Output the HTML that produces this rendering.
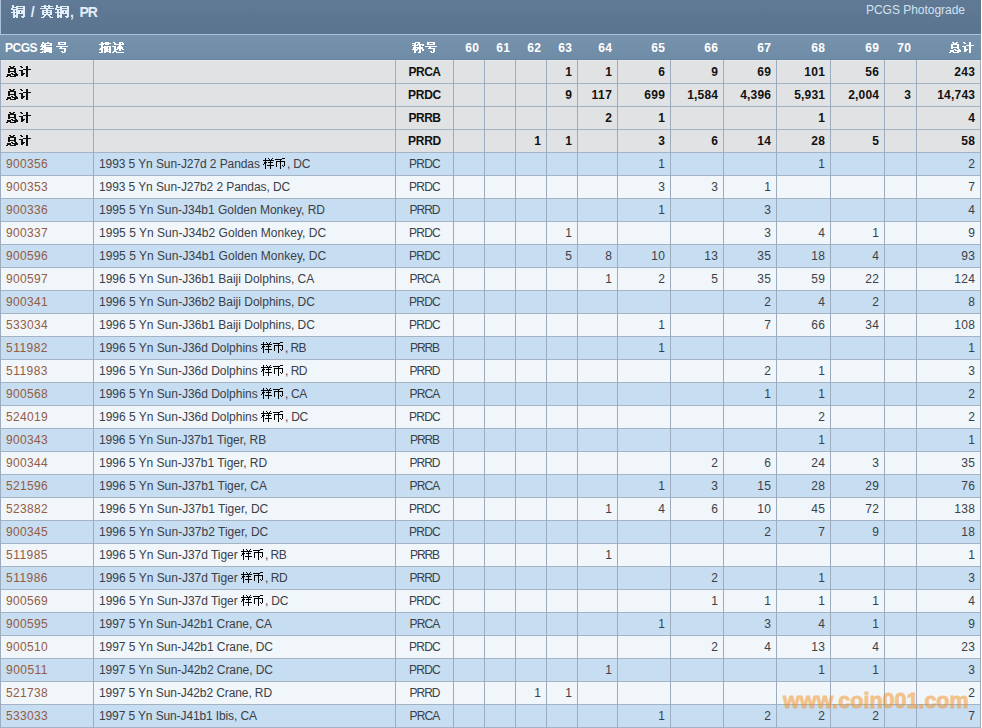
<!DOCTYPE html>
<html><head><meta charset="utf-8"><title>PCGS Population - Copper / Brass, PR</title>
<style>
*{margin:0;padding:0;box-sizing:border-box}
html,body{width:982px;height:728px;overflow:hidden;background:#fff}
body{position:relative;font-family:"Liberation Sans",sans-serif;font-size:12px;color:#3b4047}
.a{position:absolute}
.t{position:absolute;white-space:nowrap;line-height:22px;height:22px}
.r{text-align:right}
.c{text-align:center}
.b{font-weight:bold;color:#111}
.h{font-weight:bold;color:#fff;line-height:25px;height:25px}
.lk{color:#945c42}
.hl{position:absolute;left:0;width:981px;height:1px;background:#a3b3c3}
.vl{position:absolute;width:1px;background:#9cacbe}
.tx{position:absolute;color:transparent;pointer-events:none;letter-spacing:0}
svg{display:inline}
</style></head><body>

<div class="a" style="left:0;top:0;width:981px;height:34px;background:linear-gradient(#607a95,#5a748f)"></div>
<div class="a" style="left:0;top:0;width:1px;height:34px;background:#a9c2d9"></div>
<div class="a" style="left:0;top:34px;width:981px;height:1px;background:#a9c2d9"></div>
<div class="t" style="left:11px;top:0px;line-height:24px;font-size:14px;font-weight:bold;color:#e3eef9"><svg width="15" height="13" viewBox="0 0 15 13" shape-rendering="crispEdges" style="vertical-align:-1px"><path fill="#e3eef9" d="M1 0h2v1h-2zM1 1h2v1h-2zM5 1h9v1h-9zM1 2h6v1h-6zM12 2h2v1h-2zM0 3h2v1h-2zM5 3h9v1h-9zM0 4h7v1h-7zM12 4h2v1h-2zM2 5h2v1h-2zM5 5h9v1h-9zM2 6h2v1h-2zM5 6h4v1h-4zM10 6h4v1h-4zM0 7h9v1h-9zM10 7h4v1h-4zM2 8h2v1h-2zM5 8h9v1h-9zM2 9h2v1h-2zM5 9h2v1h-2zM12 9h2v1h-2zM2 10h5v1h-5zM12 10h2v1h-2zM2 11h5v1h-5zM10 11h4v1h-4zM2 12h2v1h-2zM5 12h2v1h-2zM11 12h2v1h-2z"/></svg><span class="tx">铜</span><span style="letter-spacing:0.78px"> / </span><svg width="30" height="13" viewBox="0 0 30 13" shape-rendering="crispEdges" style="vertical-align:-1px"><path fill="#e3eef9" d="M4 0h2v1h-2zM8 0h2v1h-2zM1 1h12v1h-12zM4 2h2v1h-2zM8 2h2v1h-2zM0 3h14v1h-14zM6 4h2v1h-2zM2 5h10v1h-10zM2 6h2v1h-2zM6 6h2v1h-2zM10 6h2v1h-2zM2 7h10v1h-10zM2 8h2v1h-2zM6 8h2v1h-2zM10 8h2v1h-2zM2 9h10v1h-10zM4 10h2v1h-2zM8 10h2v1h-2zM3 11h2v1h-2zM9 11h2v1h-2zM1 12h3v1h-3zM10 12h3v1h-3zM16 0h2v1h-2zM16 1h2v1h-2zM20 1h9v1h-9zM16 2h6v1h-6zM27 2h2v1h-2zM15 3h2v1h-2zM20 3h9v1h-9zM15 4h7v1h-7zM27 4h2v1h-2zM17 5h2v1h-2zM20 5h9v1h-9zM17 6h2v1h-2zM20 6h4v1h-4zM25 6h4v1h-4zM15 7h9v1h-9zM25 7h4v1h-4zM17 8h2v1h-2zM20 8h9v1h-9zM17 9h2v1h-2zM20 9h2v1h-2zM27 9h2v1h-2zM17 10h5v1h-5zM27 10h2v1h-2zM17 11h5v1h-5zM25 11h4v1h-4zM17 12h2v1h-2zM20 12h2v1h-2zM26 12h2v1h-2z"/></svg><span class="tx">黄铜</span><span style="letter-spacing:0.11px">,</span><span style="margin-left:5.5px;letter-spacing:-1.1px">PR</span></div>
<div class="t" style="left:866px;top:1px;line-height:19px;font-size:12px;color:#d3e2f1;letter-spacing:-0.05px"><span style="letter-spacing:-0.03px">PCGS Photograde</span></div>
<div class="a" style="left:0;top:35px;width:981px;height:25px;background:linear-gradient(#7692ad,#6f8ca6)"></div>
<div class="t h" style="left:5px;top:36px"><span style="letter-spacing:-0.47px">PCGS </span><svg width="13" height="11" viewBox="0 0 13 11" shape-rendering="crispEdges" style="vertical-align:-1px"><path fill="#fff" d="M2 0h2v1h-2zM7 0h2v1h-2zM2 1h10v1h-10zM1 2h2v1h-2zM4 2h2v1h-2zM10 2h2v1h-2zM1 3h11v1h-11zM0 4h6v1h-6zM2 5h10v1h-10zM1 6h2v1h-2zM4 6h8v1h-8zM0 7h12v1h-12zM4 8h8v1h-8zM2 9h10v1h-10zM0 10h3v1h-3zM4 10h2v1h-2zM9 10h3v1h-3z"/></svg><span class="tx">编</span><span style="letter-spacing:-0.34px"> </span><svg width="13" height="11" viewBox="0 0 13 11" shape-rendering="crispEdges" style="vertical-align:-1px"><path fill="#fff" d="M2 0h8v1h-8zM2 1h2v1h-2zM8 1h2v1h-2zM2 2h8v1h-8zM0 4h12v1h-12zM4 5h2v1h-2zM3 6h7v1h-7zM8 7h2v1h-2zM8 8h2v1h-2zM5 9h2v1h-2zM8 9h2v1h-2zM6 10h3v1h-3z"/></svg><span class="tx">号</span></div>
<div class="t h" style="left:99px;top:36px"><svg width="26" height="11" viewBox="0 0 26 11" shape-rendering="crispEdges" style="vertical-align:-1px"><path fill="#fff" d="M2 0h2v1h-2zM6 0h4v1h-4zM2 1h10v1h-10zM0 2h5v1h-5zM6 2h4v1h-4zM2 3h2v1h-2zM2 4h2v1h-2zM5 4h7v1h-7zM2 5h7v1h-7zM10 5h2v1h-2zM1 6h3v1h-3zM5 6h4v1h-4zM10 6h2v1h-2zM0 7h4v1h-4zM5 7h7v1h-7zM2 8h2v1h-2zM5 8h4v1h-4zM10 8h2v1h-2zM2 9h2v1h-2zM5 9h7v1h-7zM0 10h4v1h-4zM5 10h2v1h-2zM10 10h2v1h-2zM14 0h2v1h-2zM20 0h4v1h-4zM15 1h2v1h-2zM20 1h2v1h-2zM23 1h2v1h-2zM15 2h10v1h-10zM20 3h2v1h-2zM13 4h4v1h-4zM19 4h4v1h-4zM15 5h2v1h-2zM18 5h6v1h-6zM15 6h2v1h-2zM18 6h6v1h-6zM15 7h4v1h-4zM20 7h2v1h-2zM23 7h2v1h-2zM15 8h2v1h-2zM20 8h2v1h-2zM14 9h4v1h-4zM13 10h2v1h-2zM17 10h8v1h-8z"/></svg><span class="tx">描述</span></div>
<div class="t h c" style="left:396px;width:57px;top:36px"><svg width="26" height="11" viewBox="0 0 26 11" shape-rendering="crispEdges" style="vertical-align:-1px"><path fill="#fff" d="M3 0h5v1h-5zM0 1h4v1h-4zM6 1h2v1h-2zM2 2h2v1h-2zM5 2h7v1h-7zM0 3h6v1h-6zM7 3h2v1h-2zM10 3h2v1h-2zM2 4h2v1h-2zM7 4h2v1h-2zM1 5h10v1h-10zM1 6h3v1h-3zM5 6h6v1h-6zM0 7h6v1h-6zM7 7h2v1h-2zM10 7h2v1h-2zM2 8h3v1h-3zM7 8h2v1h-2zM10 8h2v1h-2zM2 9h2v1h-2zM7 9h2v1h-2zM2 10h2v1h-2zM6 10h3v1h-3zM15 0h8v1h-8zM15 1h2v1h-2zM21 1h2v1h-2zM15 2h8v1h-8zM13 4h12v1h-12zM17 5h2v1h-2zM16 6h7v1h-7zM21 7h2v1h-2zM21 8h2v1h-2zM18 9h2v1h-2zM21 9h2v1h-2zM19 10h3v1h-3z"/></svg><span class="tx">称号</span></div>
<div class="t h r" style="left:454px;width:25.32px;top:36px"><span style="letter-spacing:0.32px">60</span></div>
<div class="t h r" style="left:485px;width:25.32px;top:36px"><span style="letter-spacing:0.32px">61</span></div>
<div class="t h r" style="left:516px;width:25.32px;top:36px"><span style="letter-spacing:0.32px">62</span></div>
<div class="t h r" style="left:547px;width:25.32px;top:36px"><span style="letter-spacing:0.32px">63</span></div>
<div class="t h r" style="left:578px;width:34.32px;top:36px"><span style="letter-spacing:0.32px">64</span></div>
<div class="t h r" style="left:618px;width:47.32px;top:36px"><span style="letter-spacing:0.32px">65</span></div>
<div class="t h r" style="left:671px;width:47.32px;top:36px"><span style="letter-spacing:0.32px">66</span></div>
<div class="t h r" style="left:724px;width:47.32px;top:36px"><span style="letter-spacing:0.32px">67</span></div>
<div class="t h r" style="left:777px;width:48.32px;top:36px"><span style="letter-spacing:0.32px">68</span></div>
<div class="t h r" style="left:831px;width:48.32px;top:36px"><span style="letter-spacing:0.32px">69</span></div>
<div class="t h r" style="left:885px;width:26.32px;top:36px"><span style="letter-spacing:0.32px">70</span></div>
<div class="t h r" style="left:917px;width:58.00px;top:36px"><svg width="26" height="11" viewBox="0 0 26 11" shape-rendering="crispEdges" style="vertical-align:-1px"><path fill="#fff" d="M3 0h2v1h-2zM7 0h2v1h-2zM4 1h4v1h-4zM2 2h8v1h-8zM2 3h2v1h-2zM8 3h2v1h-2zM2 4h2v1h-2zM8 4h2v1h-2zM2 5h8v1h-8zM2 6h2v1h-2zM8 6h2v1h-2zM5 7h2v1h-2zM9 7h2v1h-2zM1 8h4v1h-4zM6 8h6v1h-6zM1 9h4v1h-4zM8 9h4v1h-4zM0 10h2v1h-2zM4 10h6v1h-6zM14 0h2v1h-2zM20 0h2v1h-2zM15 1h2v1h-2zM20 1h2v1h-2zM20 2h2v1h-2zM17 3h8v1h-8zM13 4h4v1h-4zM20 4h2v1h-2zM15 5h2v1h-2zM20 5h2v1h-2zM15 6h2v1h-2zM20 6h2v1h-2zM15 7h4v1h-4zM20 7h2v1h-2zM15 8h3v1h-3zM20 8h2v1h-2zM15 9h2v1h-2zM20 9h2v1h-2zM20 10h2v1h-2z"/></svg><span class="tx">总计</span></div>
<div class="a" style="left:0;top:60px;width:981px;height:23px;background:#e1e2e4"></div>
<div class="t b" style="left:6px;top:61px"><svg width="26" height="11" viewBox="0 0 26 11" shape-rendering="crispEdges" style="vertical-align:-1px"><path fill="#111" d="M3 0h2v1h-2zM7 0h2v1h-2zM4 1h4v1h-4zM2 2h8v1h-8zM2 3h2v1h-2zM8 3h2v1h-2zM2 4h2v1h-2zM8 4h2v1h-2zM2 5h8v1h-8zM2 6h2v1h-2zM8 6h2v1h-2zM5 7h2v1h-2zM9 7h2v1h-2zM1 8h4v1h-4zM6 8h6v1h-6zM1 9h4v1h-4zM8 9h4v1h-4zM0 10h2v1h-2zM4 10h6v1h-6zM14 0h2v1h-2zM20 0h2v1h-2zM15 1h2v1h-2zM20 1h2v1h-2zM20 2h2v1h-2zM17 3h8v1h-8zM13 4h4v1h-4zM20 4h2v1h-2zM15 5h2v1h-2zM20 5h2v1h-2zM15 6h2v1h-2zM20 6h2v1h-2zM15 7h4v1h-4zM20 7h2v1h-2zM15 8h3v1h-3zM20 8h2v1h-2zM15 9h2v1h-2zM20 9h2v1h-2zM20 10h2v1h-2z"/></svg><span class="tx">总计</span></div>
<div class="t b c" style="left:396px;width:57px;top:61px"><span style="letter-spacing:-0.50px">PRCA</span></div>
<div class="t b r" style="left:547px;width:25.31px;top:61px"><span style="letter-spacing:0.31px">1</span></div>
<div class="t b r" style="left:578px;width:34.31px;top:61px"><span style="letter-spacing:0.31px">1</span></div>
<div class="t b r" style="left:618px;width:47.31px;top:61px"><span style="letter-spacing:0.31px">6</span></div>
<div class="t b r" style="left:671px;width:47.31px;top:61px"><span style="letter-spacing:0.31px">9</span></div>
<div class="t b r" style="left:724px;width:47.32px;top:61px"><span style="letter-spacing:0.32px">69</span></div>
<div class="t b r" style="left:777px;width:48.32px;top:61px"><span style="letter-spacing:0.32px">101</span></div>
<div class="t b r" style="left:831px;width:48.32px;top:61px"><span style="letter-spacing:0.32px">56</span></div>
<div class="t b r" style="left:917px;width:58.32px;top:61px"><span style="letter-spacing:0.32px">243</span></div>
<div class="a" style="left:0;top:83px;width:981px;height:23px;background:#e1e2e4"></div>
<div class="t b" style="left:6px;top:84px"><svg width="26" height="11" viewBox="0 0 26 11" shape-rendering="crispEdges" style="vertical-align:-1px"><path fill="#111" d="M3 0h2v1h-2zM7 0h2v1h-2zM4 1h4v1h-4zM2 2h8v1h-8zM2 3h2v1h-2zM8 3h2v1h-2zM2 4h2v1h-2zM8 4h2v1h-2zM2 5h8v1h-8zM2 6h2v1h-2zM8 6h2v1h-2zM5 7h2v1h-2zM9 7h2v1h-2zM1 8h4v1h-4zM6 8h6v1h-6zM1 9h4v1h-4zM8 9h4v1h-4zM0 10h2v1h-2zM4 10h6v1h-6zM14 0h2v1h-2zM20 0h2v1h-2zM15 1h2v1h-2zM20 1h2v1h-2zM20 2h2v1h-2zM17 3h8v1h-8zM13 4h4v1h-4zM20 4h2v1h-2zM15 5h2v1h-2zM20 5h2v1h-2zM15 6h2v1h-2zM20 6h2v1h-2zM15 7h4v1h-4zM20 7h2v1h-2zM15 8h3v1h-3zM20 8h2v1h-2zM15 9h2v1h-2zM20 9h2v1h-2zM20 10h2v1h-2z"/></svg><span class="tx">总计</span></div>
<div class="t b c" style="left:396px;width:57px;top:84px"><span style="letter-spacing:-0.25px">PRDC</span></div>
<div class="t b r" style="left:547px;width:25.31px;top:84px"><span style="letter-spacing:0.31px">9</span></div>
<div class="t b r" style="left:578px;width:34.55px;top:84px"><span style="letter-spacing:0.55px">117</span></div>
<div class="t b r" style="left:618px;width:47.32px;top:84px"><span style="letter-spacing:0.32px">699</span></div>
<div class="t b r" style="left:671px;width:47.19px;top:84px"><span style="letter-spacing:0.19px">1,584</span></div>
<div class="t b r" style="left:724px;width:47.19px;top:84px"><span style="letter-spacing:0.19px">4,396</span></div>
<div class="t b r" style="left:777px;width:48.19px;top:84px"><span style="letter-spacing:0.19px">5,931</span></div>
<div class="t b r" style="left:831px;width:48.19px;top:84px"><span style="letter-spacing:0.19px">2,004</span></div>
<div class="t b r" style="left:885px;width:26.31px;top:84px"><span style="letter-spacing:0.31px">3</span></div>
<div class="t b r" style="left:917px;width:58.22px;top:84px"><span style="letter-spacing:0.22px">14,743</span></div>
<div class="a" style="left:0;top:106px;width:981px;height:23px;background:#e1e2e4"></div>
<div class="t b" style="left:6px;top:107px"><svg width="26" height="11" viewBox="0 0 26 11" shape-rendering="crispEdges" style="vertical-align:-1px"><path fill="#111" d="M3 0h2v1h-2zM7 0h2v1h-2zM4 1h4v1h-4zM2 2h8v1h-8zM2 3h2v1h-2zM8 3h2v1h-2zM2 4h2v1h-2zM8 4h2v1h-2zM2 5h8v1h-8zM2 6h2v1h-2zM8 6h2v1h-2zM5 7h2v1h-2zM9 7h2v1h-2zM1 8h4v1h-4zM6 8h6v1h-6zM1 9h4v1h-4zM8 9h4v1h-4zM0 10h2v1h-2zM4 10h6v1h-6zM14 0h2v1h-2zM20 0h2v1h-2zM15 1h2v1h-2zM20 1h2v1h-2zM20 2h2v1h-2zM17 3h8v1h-8zM13 4h4v1h-4zM20 4h2v1h-2zM15 5h2v1h-2zM20 5h2v1h-2zM15 6h2v1h-2zM20 6h2v1h-2zM15 7h4v1h-4zM20 7h2v1h-2zM15 8h3v1h-3zM20 8h2v1h-2zM15 9h2v1h-2zM20 9h2v1h-2zM20 10h2v1h-2z"/></svg><span class="tx">总计</span></div>
<div class="t b c" style="left:396px;width:57px;top:107px"><span style="letter-spacing:-0.50px">PRRB</span></div>
<div class="t b r" style="left:578px;width:34.31px;top:107px"><span style="letter-spacing:0.31px">2</span></div>
<div class="t b r" style="left:618px;width:47.31px;top:107px"><span style="letter-spacing:0.31px">1</span></div>
<div class="t b r" style="left:777px;width:48.31px;top:107px"><span style="letter-spacing:0.31px">1</span></div>
<div class="t b r" style="left:917px;width:58.31px;top:107px"><span style="letter-spacing:0.31px">4</span></div>
<div class="a" style="left:0;top:129px;width:981px;height:23px;background:#e1e2e4"></div>
<div class="t b" style="left:6px;top:130px"><svg width="26" height="11" viewBox="0 0 26 11" shape-rendering="crispEdges" style="vertical-align:-1px"><path fill="#111" d="M3 0h2v1h-2zM7 0h2v1h-2zM4 1h4v1h-4zM2 2h8v1h-8zM2 3h2v1h-2zM8 3h2v1h-2zM2 4h2v1h-2zM8 4h2v1h-2zM2 5h8v1h-8zM2 6h2v1h-2zM8 6h2v1h-2zM5 7h2v1h-2zM9 7h2v1h-2zM1 8h4v1h-4zM6 8h6v1h-6zM1 9h4v1h-4zM8 9h4v1h-4zM0 10h2v1h-2zM4 10h6v1h-6zM14 0h2v1h-2zM20 0h2v1h-2zM15 1h2v1h-2zM20 1h2v1h-2zM20 2h2v1h-2zM17 3h8v1h-8zM13 4h4v1h-4zM20 4h2v1h-2zM15 5h2v1h-2zM20 5h2v1h-2zM15 6h2v1h-2zM20 6h2v1h-2zM15 7h4v1h-4zM20 7h2v1h-2zM15 8h3v1h-3zM20 8h2v1h-2zM15 9h2v1h-2zM20 9h2v1h-2zM20 10h2v1h-2z"/></svg><span class="tx">总计</span></div>
<div class="t b c" style="left:396px;width:57px;top:130px"><span style="letter-spacing:-0.25px">PRRD</span></div>
<div class="t b r" style="left:516px;width:25.31px;top:130px"><span style="letter-spacing:0.31px">1</span></div>
<div class="t b r" style="left:547px;width:25.31px;top:130px"><span style="letter-spacing:0.31px">1</span></div>
<div class="t b r" style="left:618px;width:47.31px;top:130px"><span style="letter-spacing:0.31px">3</span></div>
<div class="t b r" style="left:671px;width:47.31px;top:130px"><span style="letter-spacing:0.31px">6</span></div>
<div class="t b r" style="left:724px;width:47.32px;top:130px"><span style="letter-spacing:0.32px">14</span></div>
<div class="t b r" style="left:777px;width:48.32px;top:130px"><span style="letter-spacing:0.32px">28</span></div>
<div class="t b r" style="left:831px;width:48.31px;top:130px"><span style="letter-spacing:0.31px">5</span></div>
<div class="t b r" style="left:917px;width:58.32px;top:130px"><span style="letter-spacing:0.32px">58</span></div>
<div class="a" style="left:0;top:152px;width:981px;height:23px;background:#c7ddf1"></div>
<div class="t lk" style="left:6px;top:153px"><span style="letter-spacing:0.33px">900356</span></div>
<div class="t" style="left:99px;top:153px"><span style="letter-spacing:-0.09px">1993 5 Yn Sun-J27d 2 Pandas </span><svg width="24" height="11" viewBox="0 0 24 11" shape-rendering="crispEdges" style="vertical-align:-1px"><path fill="#000" d="M2 0h1v1h-1zM5 0h1v1h-1zM9 0h1v1h-1zM2 1h1v1h-1zM6 1h1v1h-1zM8 1h1v1h-1zM0 2h11v1h-11zM2 3h1v1h-1zM7 3h1v1h-1zM1 4h3v1h-3zM5 4h5v1h-5zM1 5h2v1h-2zM7 5h1v1h-1zM0 6h1v1h-1zM2 6h1v1h-1zM7 6h1v1h-1zM2 7h1v1h-1zM4 7h7v1h-7zM2 8h1v1h-1zM7 8h1v1h-1zM2 9h1v1h-1zM7 9h1v1h-1zM2 10h1v1h-1zM7 10h1v1h-1zM19 0h3v1h-3zM12 1h7v1h-7zM17 2h1v1h-1zM13 3h9v1h-9zM13 4h1v1h-1zM17 4h1v1h-1zM21 4h1v1h-1zM13 5h1v1h-1zM17 5h1v1h-1zM21 5h1v1h-1zM13 6h1v1h-1zM17 6h1v1h-1zM21 6h1v1h-1zM13 7h1v1h-1zM17 7h1v1h-1zM19 7h1v1h-1zM21 7h1v1h-1zM13 8h1v1h-1zM17 8h1v1h-1zM20 8h1v1h-1zM17 9h1v1h-1zM17 10h1v1h-1z"/></svg><span class="tx">样币</span><span style="letter-spacing:-0.25px">, DC</span></div>
<div class="t c" style="left:396px;width:57px;top:153px"><span style="letter-spacing:-0.75px">PRDC</span></div>
<div class="t r" style="left:618px;width:47.31px;top:153px"><span style="letter-spacing:0.31px">1</span></div>
<div class="t r" style="left:777px;width:48.31px;top:153px"><span style="letter-spacing:0.31px">1</span></div>
<div class="t r" style="left:917px;width:58.31px;top:153px"><span style="letter-spacing:0.31px">2</span></div>
<div class="a" style="left:0;top:175px;width:981px;height:23px;background:#f1f6fb"></div>
<div class="t lk" style="left:6px;top:176px"><span style="letter-spacing:0.33px">900353</span></div>
<div class="t" style="left:99px;top:176px"><span style="letter-spacing:-0.09px">1993 5 Yn Sun-J27b2 2 Pandas, DC</span></div>
<div class="t c" style="left:396px;width:57px;top:176px"><span style="letter-spacing:-0.75px">PRDC</span></div>
<div class="t r" style="left:618px;width:47.31px;top:176px"><span style="letter-spacing:0.31px">3</span></div>
<div class="t r" style="left:671px;width:47.31px;top:176px"><span style="letter-spacing:0.31px">3</span></div>
<div class="t r" style="left:724px;width:47.31px;top:176px"><span style="letter-spacing:0.31px">1</span></div>
<div class="t r" style="left:917px;width:58.31px;top:176px"><span style="letter-spacing:0.31px">7</span></div>
<div class="a" style="left:0;top:198px;width:981px;height:23px;background:#c7ddf1"></div>
<div class="t lk" style="left:6px;top:199px"><span style="letter-spacing:0.33px">900336</span></div>
<div class="t" style="left:99px;top:199px"><span style="letter-spacing:-0.01px">1995 5 Yn Sun-J34b1 Golden Monkey, RD</span></div>
<div class="t c" style="left:396px;width:57px;top:199px"><span style="letter-spacing:-1.00px">PRRD</span></div>
<div class="t r" style="left:618px;width:47.31px;top:199px"><span style="letter-spacing:0.31px">1</span></div>
<div class="t r" style="left:724px;width:47.31px;top:199px"><span style="letter-spacing:0.31px">3</span></div>
<div class="t r" style="left:917px;width:58.31px;top:199px"><span style="letter-spacing:0.31px">4</span></div>
<div class="a" style="left:0;top:221px;width:981px;height:23px;background:#f1f6fb"></div>
<div class="t lk" style="left:6px;top:222px"><span style="letter-spacing:0.33px">900337</span></div>
<div class="t" style="left:99px;top:222px"><span style="letter-spacing:0.02px">1995 5 Yn Sun-J34b2 Golden Monkey, DC</span></div>
<div class="t c" style="left:396px;width:57px;top:222px"><span style="letter-spacing:-0.75px">PRDC</span></div>
<div class="t r" style="left:547px;width:25.31px;top:222px"><span style="letter-spacing:0.31px">1</span></div>
<div class="t r" style="left:724px;width:47.31px;top:222px"><span style="letter-spacing:0.31px">3</span></div>
<div class="t r" style="left:777px;width:48.31px;top:222px"><span style="letter-spacing:0.31px">4</span></div>
<div class="t r" style="left:831px;width:48.31px;top:222px"><span style="letter-spacing:0.31px">1</span></div>
<div class="t r" style="left:917px;width:58.31px;top:222px"><span style="letter-spacing:0.31px">9</span></div>
<div class="a" style="left:0;top:244px;width:981px;height:23px;background:#c7ddf1"></div>
<div class="t lk" style="left:6px;top:245px"><span style="letter-spacing:0.33px">900596</span></div>
<div class="t" style="left:99px;top:245px"><span style="letter-spacing:0.02px">1995 5 Yn Sun-J34b1 Golden Monkey, DC</span></div>
<div class="t c" style="left:396px;width:57px;top:245px"><span style="letter-spacing:-0.75px">PRDC</span></div>
<div class="t r" style="left:547px;width:25.31px;top:245px"><span style="letter-spacing:0.31px">5</span></div>
<div class="t r" style="left:578px;width:34.31px;top:245px"><span style="letter-spacing:0.31px">8</span></div>
<div class="t r" style="left:618px;width:47.32px;top:245px"><span style="letter-spacing:0.32px">10</span></div>
<div class="t r" style="left:671px;width:47.32px;top:245px"><span style="letter-spacing:0.32px">13</span></div>
<div class="t r" style="left:724px;width:47.32px;top:245px"><span style="letter-spacing:0.32px">35</span></div>
<div class="t r" style="left:777px;width:48.32px;top:245px"><span style="letter-spacing:0.32px">18</span></div>
<div class="t r" style="left:831px;width:48.31px;top:245px"><span style="letter-spacing:0.31px">4</span></div>
<div class="t r" style="left:917px;width:58.32px;top:245px"><span style="letter-spacing:0.32px">93</span></div>
<div class="a" style="left:0;top:267px;width:981px;height:23px;background:#f1f6fb"></div>
<div class="t lk" style="left:6px;top:268px"><span style="letter-spacing:0.33px">900597</span></div>
<div class="t" style="left:99px;top:268px">1996 5 Yn Sun-J36b1 Baiji Dolphins, CA</div>
<div class="t c" style="left:396px;width:57px;top:268px"><span style="letter-spacing:-0.84px">PRCA</span></div>
<div class="t r" style="left:578px;width:34.31px;top:268px"><span style="letter-spacing:0.31px">1</span></div>
<div class="t r" style="left:618px;width:47.31px;top:268px"><span style="letter-spacing:0.31px">2</span></div>
<div class="t r" style="left:671px;width:47.31px;top:268px"><span style="letter-spacing:0.31px">5</span></div>
<div class="t r" style="left:724px;width:47.32px;top:268px"><span style="letter-spacing:0.32px">35</span></div>
<div class="t r" style="left:777px;width:48.32px;top:268px"><span style="letter-spacing:0.32px">59</span></div>
<div class="t r" style="left:831px;width:48.32px;top:268px"><span style="letter-spacing:0.32px">22</span></div>
<div class="t r" style="left:917px;width:58.32px;top:268px"><span style="letter-spacing:0.32px">124</span></div>
<div class="a" style="left:0;top:290px;width:981px;height:23px;background:#c7ddf1"></div>
<div class="t lk" style="left:6px;top:291px"><span style="letter-spacing:0.33px">900341</span></div>
<div class="t" style="left:99px;top:291px">1996 5 Yn Sun-J36b2 Baiji Dolphins, DC</div>
<div class="t c" style="left:396px;width:57px;top:291px"><span style="letter-spacing:-0.75px">PRDC</span></div>
<div class="t r" style="left:724px;width:47.31px;top:291px"><span style="letter-spacing:0.31px">2</span></div>
<div class="t r" style="left:777px;width:48.31px;top:291px"><span style="letter-spacing:0.31px">4</span></div>
<div class="t r" style="left:831px;width:48.31px;top:291px"><span style="letter-spacing:0.31px">2</span></div>
<div class="t r" style="left:917px;width:58.31px;top:291px"><span style="letter-spacing:0.31px">8</span></div>
<div class="a" style="left:0;top:313px;width:981px;height:23px;background:#f1f6fb"></div>
<div class="t lk" style="left:6px;top:314px"><span style="letter-spacing:0.33px">533034</span></div>
<div class="t" style="left:99px;top:314px">1996 5 Yn Sun-J36b1 Baiji Dolphins, DC</div>
<div class="t c" style="left:396px;width:57px;top:314px"><span style="letter-spacing:-0.75px">PRDC</span></div>
<div class="t r" style="left:618px;width:47.31px;top:314px"><span style="letter-spacing:0.31px">1</span></div>
<div class="t r" style="left:724px;width:47.31px;top:314px"><span style="letter-spacing:0.31px">7</span></div>
<div class="t r" style="left:777px;width:48.32px;top:314px"><span style="letter-spacing:0.32px">66</span></div>
<div class="t r" style="left:831px;width:48.32px;top:314px"><span style="letter-spacing:0.32px">34</span></div>
<div class="t r" style="left:917px;width:58.32px;top:314px"><span style="letter-spacing:0.32px">108</span></div>
<div class="a" style="left:0;top:336px;width:981px;height:23px;background:#c7ddf1"></div>
<div class="t lk" style="left:6px;top:337px"><span style="letter-spacing:0.47px">511982</span></div>
<div class="t" style="left:99px;top:337px"><span style="letter-spacing:-0.02px">1996 5 Yn Sun-J36d Dolphins </span><svg width="24" height="11" viewBox="0 0 24 11" shape-rendering="crispEdges" style="vertical-align:-1px"><path fill="#000" d="M2 0h1v1h-1zM5 0h1v1h-1zM9 0h1v1h-1zM2 1h1v1h-1zM6 1h1v1h-1zM8 1h1v1h-1zM0 2h11v1h-11zM2 3h1v1h-1zM7 3h1v1h-1zM1 4h3v1h-3zM5 4h5v1h-5zM1 5h2v1h-2zM7 5h1v1h-1zM0 6h1v1h-1zM2 6h1v1h-1zM7 6h1v1h-1zM2 7h1v1h-1zM4 7h7v1h-7zM2 8h1v1h-1zM7 8h1v1h-1zM2 9h1v1h-1zM7 9h1v1h-1zM2 10h1v1h-1zM7 10h1v1h-1zM19 0h3v1h-3zM12 1h7v1h-7zM17 2h1v1h-1zM13 3h9v1h-9zM13 4h1v1h-1zM17 4h1v1h-1zM21 4h1v1h-1zM13 5h1v1h-1zM17 5h1v1h-1zM21 5h1v1h-1zM13 6h1v1h-1zM17 6h1v1h-1zM21 6h1v1h-1zM13 7h1v1h-1zM17 7h1v1h-1zM19 7h1v1h-1zM21 7h1v1h-1zM13 8h1v1h-1zM17 8h1v1h-1zM20 8h1v1h-1zM17 9h1v1h-1zM17 10h1v1h-1z"/></svg><span class="tx">样币</span><span style="letter-spacing:-0.59px">, RB</span></div>
<div class="t c" style="left:396px;width:57px;top:337px"><span style="letter-spacing:-1.09px">PRRB</span></div>
<div class="t r" style="left:618px;width:47.31px;top:337px"><span style="letter-spacing:0.31px">1</span></div>
<div class="t r" style="left:917px;width:58.31px;top:337px"><span style="letter-spacing:0.31px">1</span></div>
<div class="a" style="left:0;top:359px;width:981px;height:23px;background:#f1f6fb"></div>
<div class="t lk" style="left:6px;top:360px"><span style="letter-spacing:0.47px">511983</span></div>
<div class="t" style="left:99px;top:360px"><span style="letter-spacing:-0.02px">1996 5 Yn Sun-J36d Dolphins </span><svg width="24" height="11" viewBox="0 0 24 11" shape-rendering="crispEdges" style="vertical-align:-1px"><path fill="#000" d="M2 0h1v1h-1zM5 0h1v1h-1zM9 0h1v1h-1zM2 1h1v1h-1zM6 1h1v1h-1zM8 1h1v1h-1zM0 2h11v1h-11zM2 3h1v1h-1zM7 3h1v1h-1zM1 4h3v1h-3zM5 4h5v1h-5zM1 5h2v1h-2zM7 5h1v1h-1zM0 6h1v1h-1zM2 6h1v1h-1zM7 6h1v1h-1zM2 7h1v1h-1zM4 7h7v1h-7zM2 8h1v1h-1zM7 8h1v1h-1zM2 9h1v1h-1zM7 9h1v1h-1zM2 10h1v1h-1zM7 10h1v1h-1zM19 0h3v1h-3zM12 1h7v1h-7zM17 2h1v1h-1zM13 3h9v1h-9zM13 4h1v1h-1zM17 4h1v1h-1zM21 4h1v1h-1zM13 5h1v1h-1zM17 5h1v1h-1zM21 5h1v1h-1zM13 6h1v1h-1zM17 6h1v1h-1zM21 6h1v1h-1zM13 7h1v1h-1zM17 7h1v1h-1zM19 7h1v1h-1zM21 7h1v1h-1zM13 8h1v1h-1zM17 8h1v1h-1zM20 8h1v1h-1zM17 9h1v1h-1zM17 10h1v1h-1z"/></svg><span class="tx">样币</span><span style="letter-spacing:-0.50px">, RD</span></div>
<div class="t c" style="left:396px;width:57px;top:360px"><span style="letter-spacing:-1.00px">PRRD</span></div>
<div class="t r" style="left:724px;width:47.31px;top:360px"><span style="letter-spacing:0.31px">2</span></div>
<div class="t r" style="left:777px;width:48.31px;top:360px"><span style="letter-spacing:0.31px">1</span></div>
<div class="t r" style="left:917px;width:58.31px;top:360px"><span style="letter-spacing:0.31px">3</span></div>
<div class="a" style="left:0;top:382px;width:981px;height:23px;background:#c7ddf1"></div>
<div class="t lk" style="left:6px;top:383px"><span style="letter-spacing:0.33px">900568</span></div>
<div class="t" style="left:99px;top:383px"><span style="letter-spacing:-0.02px">1996 5 Yn Sun-J36d Dolphins </span><svg width="24" height="11" viewBox="0 0 24 11" shape-rendering="crispEdges" style="vertical-align:-1px"><path fill="#000" d="M2 0h1v1h-1zM5 0h1v1h-1zM9 0h1v1h-1zM2 1h1v1h-1zM6 1h1v1h-1zM8 1h1v1h-1zM0 2h11v1h-11zM2 3h1v1h-1zM7 3h1v1h-1zM1 4h3v1h-3zM5 4h5v1h-5zM1 5h2v1h-2zM7 5h1v1h-1zM0 6h1v1h-1zM2 6h1v1h-1zM7 6h1v1h-1zM2 7h1v1h-1zM4 7h7v1h-7zM2 8h1v1h-1zM7 8h1v1h-1zM2 9h1v1h-1zM7 9h1v1h-1zM2 10h1v1h-1zM7 10h1v1h-1zM19 0h3v1h-3zM12 1h7v1h-7zM17 2h1v1h-1zM13 3h9v1h-9zM13 4h1v1h-1zM17 4h1v1h-1zM21 4h1v1h-1zM13 5h1v1h-1zM17 5h1v1h-1zM21 5h1v1h-1zM13 6h1v1h-1zM17 6h1v1h-1zM21 6h1v1h-1zM13 7h1v1h-1zM17 7h1v1h-1zM19 7h1v1h-1zM21 7h1v1h-1zM13 8h1v1h-1zM17 8h1v1h-1zM20 8h1v1h-1zM17 9h1v1h-1zM17 10h1v1h-1z"/></svg><span class="tx">样币</span><span style="letter-spacing:-0.34px">, CA</span></div>
<div class="t c" style="left:396px;width:57px;top:383px"><span style="letter-spacing:-0.84px">PRCA</span></div>
<div class="t r" style="left:724px;width:47.31px;top:383px"><span style="letter-spacing:0.31px">1</span></div>
<div class="t r" style="left:777px;width:48.31px;top:383px"><span style="letter-spacing:0.31px">1</span></div>
<div class="t r" style="left:917px;width:58.31px;top:383px"><span style="letter-spacing:0.31px">2</span></div>
<div class="a" style="left:0;top:405px;width:981px;height:23px;background:#f1f6fb"></div>
<div class="t lk" style="left:6px;top:406px"><span style="letter-spacing:0.33px">524019</span></div>
<div class="t" style="left:99px;top:406px"><span style="letter-spacing:-0.02px">1996 5 Yn Sun-J36d Dolphins </span><svg width="24" height="11" viewBox="0 0 24 11" shape-rendering="crispEdges" style="vertical-align:-1px"><path fill="#000" d="M2 0h1v1h-1zM5 0h1v1h-1zM9 0h1v1h-1zM2 1h1v1h-1zM6 1h1v1h-1zM8 1h1v1h-1zM0 2h11v1h-11zM2 3h1v1h-1zM7 3h1v1h-1zM1 4h3v1h-3zM5 4h5v1h-5zM1 5h2v1h-2zM7 5h1v1h-1zM0 6h1v1h-1zM2 6h1v1h-1zM7 6h1v1h-1zM2 7h1v1h-1zM4 7h7v1h-7zM2 8h1v1h-1zM7 8h1v1h-1zM2 9h1v1h-1zM7 9h1v1h-1zM2 10h1v1h-1zM7 10h1v1h-1zM19 0h3v1h-3zM12 1h7v1h-7zM17 2h1v1h-1zM13 3h9v1h-9zM13 4h1v1h-1zM17 4h1v1h-1zM21 4h1v1h-1zM13 5h1v1h-1zM17 5h1v1h-1zM21 5h1v1h-1zM13 6h1v1h-1zM17 6h1v1h-1zM21 6h1v1h-1zM13 7h1v1h-1zM17 7h1v1h-1zM19 7h1v1h-1zM21 7h1v1h-1zM13 8h1v1h-1zM17 8h1v1h-1zM20 8h1v1h-1zM17 9h1v1h-1zM17 10h1v1h-1z"/></svg><span class="tx">样币</span><span style="letter-spacing:-0.25px">, DC</span></div>
<div class="t c" style="left:396px;width:57px;top:406px"><span style="letter-spacing:-0.75px">PRDC</span></div>
<div class="t r" style="left:777px;width:48.31px;top:406px"><span style="letter-spacing:0.31px">2</span></div>
<div class="t r" style="left:917px;width:58.31px;top:406px"><span style="letter-spacing:0.31px">2</span></div>
<div class="a" style="left:0;top:428px;width:981px;height:23px;background:#c7ddf1"></div>
<div class="t lk" style="left:6px;top:429px"><span style="letter-spacing:0.33px">900343</span></div>
<div class="t" style="left:99px;top:429px"><span style="letter-spacing:-0.05px">1996 5 Yn Sun-J37b1 Tiger, RB</span></div>
<div class="t c" style="left:396px;width:57px;top:429px"><span style="letter-spacing:-1.09px">PRRB</span></div>
<div class="t r" style="left:777px;width:48.31px;top:429px"><span style="letter-spacing:0.31px">1</span></div>
<div class="t r" style="left:917px;width:58.31px;top:429px"><span style="letter-spacing:0.31px">1</span></div>
<div class="a" style="left:0;top:451px;width:981px;height:23px;background:#f1f6fb"></div>
<div class="t lk" style="left:6px;top:452px"><span style="letter-spacing:0.33px">900344</span></div>
<div class="t" style="left:99px;top:452px"><span style="letter-spacing:-0.04px">1996 5 Yn Sun-J37b1 Tiger, RD</span></div>
<div class="t c" style="left:396px;width:57px;top:452px"><span style="letter-spacing:-1.00px">PRRD</span></div>
<div class="t r" style="left:671px;width:47.31px;top:452px"><span style="letter-spacing:0.31px">2</span></div>
<div class="t r" style="left:724px;width:47.31px;top:452px"><span style="letter-spacing:0.31px">6</span></div>
<div class="t r" style="left:777px;width:48.32px;top:452px"><span style="letter-spacing:0.32px">24</span></div>
<div class="t r" style="left:831px;width:48.31px;top:452px"><span style="letter-spacing:0.31px">3</span></div>
<div class="t r" style="left:917px;width:58.32px;top:452px"><span style="letter-spacing:0.32px">35</span></div>
<div class="a" style="left:0;top:474px;width:981px;height:23px;background:#c7ddf1"></div>
<div class="t lk" style="left:6px;top:475px"><span style="letter-spacing:0.33px">521596</span></div>
<div class="t" style="left:99px;top:475px"><span style="letter-spacing:-0.02px">1996 5 Yn Sun-J37b1 Tiger, CA</span></div>
<div class="t c" style="left:396px;width:57px;top:475px"><span style="letter-spacing:-0.84px">PRCA</span></div>
<div class="t r" style="left:618px;width:47.31px;top:475px"><span style="letter-spacing:0.31px">1</span></div>
<div class="t r" style="left:671px;width:47.31px;top:475px"><span style="letter-spacing:0.31px">3</span></div>
<div class="t r" style="left:724px;width:47.32px;top:475px"><span style="letter-spacing:0.32px">15</span></div>
<div class="t r" style="left:777px;width:48.32px;top:475px"><span style="letter-spacing:0.32px">28</span></div>
<div class="t r" style="left:831px;width:48.32px;top:475px"><span style="letter-spacing:0.32px">29</span></div>
<div class="t r" style="left:917px;width:58.32px;top:475px"><span style="letter-spacing:0.32px">76</span></div>
<div class="a" style="left:0;top:497px;width:981px;height:23px;background:#f1f6fb"></div>
<div class="t lk" style="left:6px;top:498px"><span style="letter-spacing:0.33px">523882</span></div>
<div class="t" style="left:99px;top:498px">1996 5 Yn Sun-J37b1 Tiger, DC</div>
<div class="t c" style="left:396px;width:57px;top:498px"><span style="letter-spacing:-0.75px">PRDC</span></div>
<div class="t r" style="left:578px;width:34.31px;top:498px"><span style="letter-spacing:0.31px">1</span></div>
<div class="t r" style="left:618px;width:47.31px;top:498px"><span style="letter-spacing:0.31px">4</span></div>
<div class="t r" style="left:671px;width:47.31px;top:498px"><span style="letter-spacing:0.31px">6</span></div>
<div class="t r" style="left:724px;width:47.32px;top:498px"><span style="letter-spacing:0.32px">10</span></div>
<div class="t r" style="left:777px;width:48.32px;top:498px"><span style="letter-spacing:0.32px">45</span></div>
<div class="t r" style="left:831px;width:48.32px;top:498px"><span style="letter-spacing:0.32px">72</span></div>
<div class="t r" style="left:917px;width:58.32px;top:498px"><span style="letter-spacing:0.32px">138</span></div>
<div class="a" style="left:0;top:520px;width:981px;height:23px;background:#c7ddf1"></div>
<div class="t lk" style="left:6px;top:521px"><span style="letter-spacing:0.33px">900345</span></div>
<div class="t" style="left:99px;top:521px">1996 5 Yn Sun-J37b2 Tiger, DC</div>
<div class="t c" style="left:396px;width:57px;top:521px"><span style="letter-spacing:-0.75px">PRDC</span></div>
<div class="t r" style="left:724px;width:47.31px;top:521px"><span style="letter-spacing:0.31px">2</span></div>
<div class="t r" style="left:777px;width:48.31px;top:521px"><span style="letter-spacing:0.31px">7</span></div>
<div class="t r" style="left:831px;width:48.31px;top:521px"><span style="letter-spacing:0.31px">9</span></div>
<div class="t r" style="left:917px;width:58.32px;top:521px"><span style="letter-spacing:0.32px">18</span></div>
<div class="a" style="left:0;top:543px;width:981px;height:23px;background:#f1f6fb"></div>
<div class="t lk" style="left:6px;top:544px"><span style="letter-spacing:0.47px">511985</span></div>
<div class="t" style="left:99px;top:544px"><span style="letter-spacing:-0.02px">1996 5 Yn Sun-J37d Tiger </span><svg width="24" height="11" viewBox="0 0 24 11" shape-rendering="crispEdges" style="vertical-align:-1px"><path fill="#000" d="M2 0h1v1h-1zM5 0h1v1h-1zM9 0h1v1h-1zM2 1h1v1h-1zM6 1h1v1h-1zM8 1h1v1h-1zM0 2h11v1h-11zM2 3h1v1h-1zM7 3h1v1h-1zM1 4h3v1h-3zM5 4h5v1h-5zM1 5h2v1h-2zM7 5h1v1h-1zM0 6h1v1h-1zM2 6h1v1h-1zM7 6h1v1h-1zM2 7h1v1h-1zM4 7h7v1h-7zM2 8h1v1h-1zM7 8h1v1h-1zM2 9h1v1h-1zM7 9h1v1h-1zM2 10h1v1h-1zM7 10h1v1h-1zM19 0h3v1h-3zM12 1h7v1h-7zM17 2h1v1h-1zM13 3h9v1h-9zM13 4h1v1h-1zM17 4h1v1h-1zM21 4h1v1h-1zM13 5h1v1h-1zM17 5h1v1h-1zM21 5h1v1h-1zM13 6h1v1h-1zM17 6h1v1h-1zM21 6h1v1h-1zM13 7h1v1h-1zM17 7h1v1h-1zM19 7h1v1h-1zM21 7h1v1h-1zM13 8h1v1h-1zM17 8h1v1h-1zM20 8h1v1h-1zM17 9h1v1h-1zM17 10h1v1h-1z"/></svg><span class="tx">样币</span><span style="letter-spacing:-0.59px">, RB</span></div>
<div class="t c" style="left:396px;width:57px;top:544px"><span style="letter-spacing:-1.09px">PRRB</span></div>
<div class="t r" style="left:578px;width:34.31px;top:544px"><span style="letter-spacing:0.31px">1</span></div>
<div class="t r" style="left:917px;width:58.31px;top:544px"><span style="letter-spacing:0.31px">1</span></div>
<div class="a" style="left:0;top:566px;width:981px;height:23px;background:#c7ddf1"></div>
<div class="t lk" style="left:6px;top:567px"><span style="letter-spacing:0.47px">511986</span></div>
<div class="t" style="left:99px;top:567px"><span style="letter-spacing:-0.02px">1996 5 Yn Sun-J37d Tiger </span><svg width="24" height="11" viewBox="0 0 24 11" shape-rendering="crispEdges" style="vertical-align:-1px"><path fill="#000" d="M2 0h1v1h-1zM5 0h1v1h-1zM9 0h1v1h-1zM2 1h1v1h-1zM6 1h1v1h-1zM8 1h1v1h-1zM0 2h11v1h-11zM2 3h1v1h-1zM7 3h1v1h-1zM1 4h3v1h-3zM5 4h5v1h-5zM1 5h2v1h-2zM7 5h1v1h-1zM0 6h1v1h-1zM2 6h1v1h-1zM7 6h1v1h-1zM2 7h1v1h-1zM4 7h7v1h-7zM2 8h1v1h-1zM7 8h1v1h-1zM2 9h1v1h-1zM7 9h1v1h-1zM2 10h1v1h-1zM7 10h1v1h-1zM19 0h3v1h-3zM12 1h7v1h-7zM17 2h1v1h-1zM13 3h9v1h-9zM13 4h1v1h-1zM17 4h1v1h-1zM21 4h1v1h-1zM13 5h1v1h-1zM17 5h1v1h-1zM21 5h1v1h-1zM13 6h1v1h-1zM17 6h1v1h-1zM21 6h1v1h-1zM13 7h1v1h-1zM17 7h1v1h-1zM19 7h1v1h-1zM21 7h1v1h-1zM13 8h1v1h-1zM17 8h1v1h-1zM20 8h1v1h-1zM17 9h1v1h-1zM17 10h1v1h-1z"/></svg><span class="tx">样币</span><span style="letter-spacing:-0.50px">, RD</span></div>
<div class="t c" style="left:396px;width:57px;top:567px"><span style="letter-spacing:-1.00px">PRRD</span></div>
<div class="t r" style="left:671px;width:47.31px;top:567px"><span style="letter-spacing:0.31px">2</span></div>
<div class="t r" style="left:777px;width:48.31px;top:567px"><span style="letter-spacing:0.31px">1</span></div>
<div class="t r" style="left:917px;width:58.31px;top:567px"><span style="letter-spacing:0.31px">3</span></div>
<div class="a" style="left:0;top:589px;width:981px;height:23px;background:#f1f6fb"></div>
<div class="t lk" style="left:6px;top:590px"><span style="letter-spacing:0.33px">900569</span></div>
<div class="t" style="left:99px;top:590px"><span style="letter-spacing:-0.02px">1996 5 Yn Sun-J37d Tiger </span><svg width="24" height="11" viewBox="0 0 24 11" shape-rendering="crispEdges" style="vertical-align:-1px"><path fill="#000" d="M2 0h1v1h-1zM5 0h1v1h-1zM9 0h1v1h-1zM2 1h1v1h-1zM6 1h1v1h-1zM8 1h1v1h-1zM0 2h11v1h-11zM2 3h1v1h-1zM7 3h1v1h-1zM1 4h3v1h-3zM5 4h5v1h-5zM1 5h2v1h-2zM7 5h1v1h-1zM0 6h1v1h-1zM2 6h1v1h-1zM7 6h1v1h-1zM2 7h1v1h-1zM4 7h7v1h-7zM2 8h1v1h-1zM7 8h1v1h-1zM2 9h1v1h-1zM7 9h1v1h-1zM2 10h1v1h-1zM7 10h1v1h-1zM19 0h3v1h-3zM12 1h7v1h-7zM17 2h1v1h-1zM13 3h9v1h-9zM13 4h1v1h-1zM17 4h1v1h-1zM21 4h1v1h-1zM13 5h1v1h-1zM17 5h1v1h-1zM21 5h1v1h-1zM13 6h1v1h-1zM17 6h1v1h-1zM21 6h1v1h-1zM13 7h1v1h-1zM17 7h1v1h-1zM19 7h1v1h-1zM21 7h1v1h-1zM13 8h1v1h-1zM17 8h1v1h-1zM20 8h1v1h-1zM17 9h1v1h-1zM17 10h1v1h-1z"/></svg><span class="tx">样币</span><span style="letter-spacing:-0.25px">, DC</span></div>
<div class="t c" style="left:396px;width:57px;top:590px"><span style="letter-spacing:-0.75px">PRDC</span></div>
<div class="t r" style="left:671px;width:47.31px;top:590px"><span style="letter-spacing:0.31px">1</span></div>
<div class="t r" style="left:724px;width:47.31px;top:590px"><span style="letter-spacing:0.31px">1</span></div>
<div class="t r" style="left:777px;width:48.31px;top:590px"><span style="letter-spacing:0.31px">1</span></div>
<div class="t r" style="left:831px;width:48.31px;top:590px"><span style="letter-spacing:0.31px">1</span></div>
<div class="t r" style="left:917px;width:58.31px;top:590px"><span style="letter-spacing:0.31px">4</span></div>
<div class="a" style="left:0;top:612px;width:981px;height:23px;background:#c7ddf1"></div>
<div class="t lk" style="left:6px;top:613px"><span style="letter-spacing:0.33px">900595</span></div>
<div class="t" style="left:99px;top:613px"><span style="letter-spacing:-0.08px">1997 5 Yn Sun-J42b1 Crane, CA</span></div>
<div class="t c" style="left:396px;width:57px;top:613px"><span style="letter-spacing:-0.84px">PRCA</span></div>
<div class="t r" style="left:618px;width:47.31px;top:613px"><span style="letter-spacing:0.31px">1</span></div>
<div class="t r" style="left:724px;width:47.31px;top:613px"><span style="letter-spacing:0.31px">3</span></div>
<div class="t r" style="left:777px;width:48.31px;top:613px"><span style="letter-spacing:0.31px">4</span></div>
<div class="t r" style="left:831px;width:48.31px;top:613px"><span style="letter-spacing:0.31px">1</span></div>
<div class="t r" style="left:917px;width:58.31px;top:613px"><span style="letter-spacing:0.31px">9</span></div>
<div class="a" style="left:0;top:635px;width:981px;height:23px;background:#f1f6fb"></div>
<div class="t lk" style="left:6px;top:636px"><span style="letter-spacing:0.33px">900510</span></div>
<div class="t" style="left:99px;top:636px"><span style="letter-spacing:-0.07px">1997 5 Yn Sun-J42b1 Crane, DC</span></div>
<div class="t c" style="left:396px;width:57px;top:636px"><span style="letter-spacing:-0.75px">PRDC</span></div>
<div class="t r" style="left:671px;width:47.31px;top:636px"><span style="letter-spacing:0.31px">2</span></div>
<div class="t r" style="left:724px;width:47.31px;top:636px"><span style="letter-spacing:0.31px">4</span></div>
<div class="t r" style="left:777px;width:48.32px;top:636px"><span style="letter-spacing:0.32px">13</span></div>
<div class="t r" style="left:831px;width:48.31px;top:636px"><span style="letter-spacing:0.31px">4</span></div>
<div class="t r" style="left:917px;width:58.32px;top:636px"><span style="letter-spacing:0.32px">23</span></div>
<div class="a" style="left:0;top:658px;width:981px;height:23px;background:#c7ddf1"></div>
<div class="t lk" style="left:6px;top:659px"><span style="letter-spacing:0.47px">900511</span></div>
<div class="t" style="left:99px;top:659px"><span style="letter-spacing:-0.07px">1997 5 Yn Sun-J42b2 Crane, DC</span></div>
<div class="t c" style="left:396px;width:57px;top:659px"><span style="letter-spacing:-0.75px">PRDC</span></div>
<div class="t r" style="left:578px;width:34.31px;top:659px"><span style="letter-spacing:0.31px">1</span></div>
<div class="t r" style="left:777px;width:48.31px;top:659px"><span style="letter-spacing:0.31px">1</span></div>
<div class="t r" style="left:831px;width:48.31px;top:659px"><span style="letter-spacing:0.31px">1</span></div>
<div class="t r" style="left:917px;width:58.31px;top:659px"><span style="letter-spacing:0.31px">3</span></div>
<div class="a" style="left:0;top:681px;width:981px;height:23px;background:#f1f6fb"></div>
<div class="t lk" style="left:6px;top:682px"><span style="letter-spacing:0.33px">521738</span></div>
<div class="t" style="left:99px;top:682px"><span style="letter-spacing:-0.10px">1997 5 Yn Sun-J42b2 Crane, RD</span></div>
<div class="t c" style="left:396px;width:57px;top:682px"><span style="letter-spacing:-1.00px">PRRD</span></div>
<div class="t r" style="left:516px;width:25.31px;top:682px"><span style="letter-spacing:0.31px">1</span></div>
<div class="t r" style="left:547px;width:25.31px;top:682px"><span style="letter-spacing:0.31px">1</span></div>
<div class="t r" style="left:917px;width:58.31px;top:682px"><span style="letter-spacing:0.31px">2</span></div>
<div class="a" style="left:0;top:704px;width:981px;height:23px;background:#c7ddf1"></div>
<div class="t lk" style="left:6px;top:705px"><span style="letter-spacing:0.33px">533033</span></div>
<div class="t" style="left:99px;top:705px"><span style="letter-spacing:-0.12px">1997 5 Yn Sun-J41b1 Ibis, CA</span></div>
<div class="t c" style="left:396px;width:57px;top:705px"><span style="letter-spacing:-0.84px">PRCA</span></div>
<div class="t r" style="left:618px;width:47.31px;top:705px"><span style="letter-spacing:0.31px">1</span></div>
<div class="t r" style="left:724px;width:47.31px;top:705px"><span style="letter-spacing:0.31px">2</span></div>
<div class="t r" style="left:777px;width:48.31px;top:705px"><span style="letter-spacing:0.31px">2</span></div>
<div class="t r" style="left:831px;width:48.31px;top:705px"><span style="letter-spacing:0.31px">2</span></div>
<div class="t r" style="left:917px;width:58.31px;top:705px"><span style="letter-spacing:0.31px">7</span></div>
<div class="hl" style="top:59px;background:#6a869f"></div>
<div class="hl" style="top:60px;background:#e6ecf2"></div>
<div class="hl" style="top:83px"></div>
<div class="hl" style="top:106px"></div>
<div class="hl" style="top:129px"></div>
<div class="hl" style="top:152px"></div>
<div class="hl" style="top:175px"></div>
<div class="hl" style="top:198px"></div>
<div class="hl" style="top:221px"></div>
<div class="hl" style="top:244px"></div>
<div class="hl" style="top:267px"></div>
<div class="hl" style="top:290px"></div>
<div class="hl" style="top:313px"></div>
<div class="hl" style="top:336px"></div>
<div class="hl" style="top:359px"></div>
<div class="hl" style="top:382px"></div>
<div class="hl" style="top:405px"></div>
<div class="hl" style="top:428px"></div>
<div class="hl" style="top:451px"></div>
<div class="hl" style="top:474px"></div>
<div class="hl" style="top:497px"></div>
<div class="hl" style="top:520px"></div>
<div class="hl" style="top:543px"></div>
<div class="hl" style="top:566px"></div>
<div class="hl" style="top:589px"></div>
<div class="hl" style="top:612px"></div>
<div class="hl" style="top:635px"></div>
<div class="hl" style="top:658px"></div>
<div class="hl" style="top:681px"></div>
<div class="hl" style="top:704px"></div>
<div class="hl" style="top:727px"></div>
<div class="vl" style="left:0px;top:60px;height:668px"></div>
<div class="vl" style="left:93px;top:60px;height:668px"></div>
<div class="vl" style="left:395px;top:60px;height:668px"></div>
<div class="vl" style="left:453px;top:60px;height:668px"></div>
<div class="vl" style="left:484px;top:60px;height:668px"></div>
<div class="vl" style="left:515px;top:60px;height:668px"></div>
<div class="vl" style="left:546px;top:60px;height:668px"></div>
<div class="vl" style="left:577px;top:60px;height:668px"></div>
<div class="vl" style="left:617px;top:60px;height:668px"></div>
<div class="vl" style="left:670px;top:60px;height:668px"></div>
<div class="vl" style="left:723px;top:60px;height:668px"></div>
<div class="vl" style="left:776px;top:60px;height:668px"></div>
<div class="vl" style="left:830px;top:60px;height:668px"></div>
<div class="vl" style="left:884px;top:60px;height:668px"></div>
<div class="vl" style="left:916px;top:60px;height:668px"></div>
<div class="vl" style="left:980px;top:60px;height:668px"></div>
<div class="t" style="left:783px;top:686px;font-size:21.5px;line-height:30px;height:30px;font-weight:bold;color:#f5901d;-webkit-text-stroke:0.9px #f5901d;opacity:0.5">www.coin001.com</div>
</body></html>
